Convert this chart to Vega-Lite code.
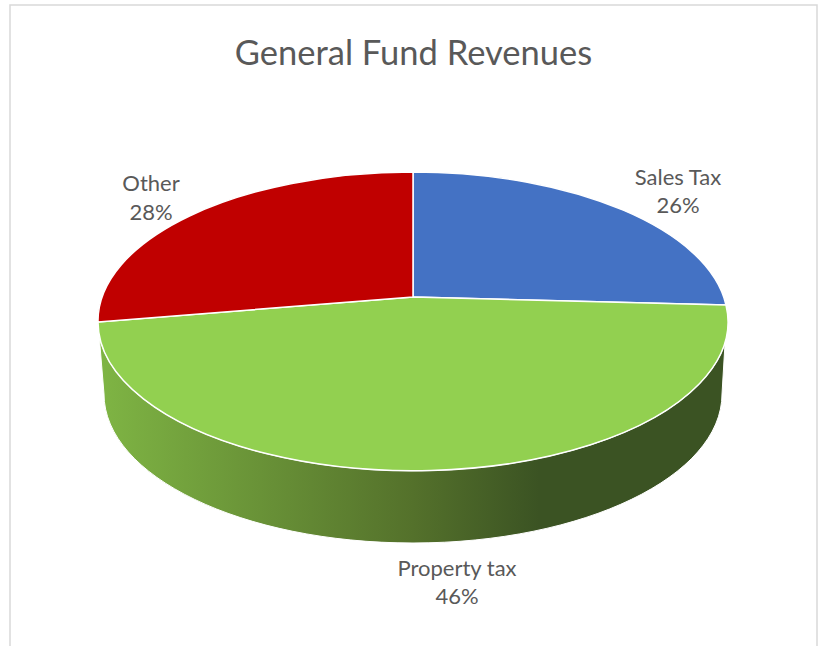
{
  "$schema": "https://vega.github.io/schema/vega-lite/v6.json",
  "width": 822,
  "height": 646,
  "autosize": {"type": "fit", "contains": "padding"},
  "padding": {"left": 10, "top": 5, "right": 5, "bottom": -10},
  "background": "white",
  "view": {"stroke": "#D9D9D9", "strokeWidth": 1.5, "fill": "white"},
  "title": {"text": "General Fund Revenues", "font": "Lato", "fontSize": 34.5, "fontWeight": "normal", "color": "#595959", "anchor": "middle", "offset": -67},
  "data": {"values": [
    {"source": "Sales Tax", "share": 26, "label": "Sales Tax\n26%"},
    {"source": "Property tax", "share": 46, "label": "Property tax\n46%"},
    {"source": "Other", "share": 28, "label": "Other\n28%"}
  ]},
  "layer": [
    {
      "transform": [{"filter": "datum.source === 'Property tax'"}],
      "mark": {"type": "point", "filled": true, "opacity": 1, "size": 40000, "stroke": "white", "strokeWidth": 1,
        "shape": "M-3.155 -0.085 L-3.095 0.635 A3.09 1.49 0 0 0 3.085 0.635 L3.135 -0.205 L3.125 -0.255 A3.15 1.49 0 1 1 -3.155 -0.085 Z",
        "fill": {"gradient": "linear", "x1": 0, "y1": 0, "x2": 1, "y2": 0, "stops": [
          {"offset": 0, "color": "#7FB544"},
          {"offset": 0.5, "color": "#54712B"},
          {"offset": 0.7, "color": "#3B5323"},
          {"offset": 1, "color": "#3B5323"}
        ]}},
      "encoding": {}
    },
    {
      "mark": {"type": "point", "filled": true, "opacity": 1, "size": 40000, "stroke": "white", "strokeWidth": 1.5},
      "encoding": {
        "shape": {"field": "source", "type": "nominal", "legend": null, "scale": {
          "domain": ["Sales Tax", "Property tax", "Other"],
          "range": [
            "M-0.005 -0.335 L-0.005 -1.585 A3.15 1.49 0 0 1 3.125 -0.255 Z",
            "M-0.005 -0.335 L3.125 -0.255 A3.15 1.49 0 1 1 -3.155 -0.085 Z",
            "M-0.005 -0.335 L-3.155 -0.085 A3.15 1.49 0 0 1 -0.005 -1.585 Z"
          ]}},
        "color": {"field": "source", "type": "nominal", "legend": null, "scale": {
          "domain": ["Sales Tax", "Property tax", "Other"],
          "range": ["#4472C4", "#92D050", "#C00000"]}}
      }
    },
    {
      "transform": [{"filter": "datum.source === 'Sales Tax'"}],
      "mark": {"type": "text", "font": "Lato", "fontSize": 22, "color": "#595959", "lineBreak": "\n", "lineHeight": 28, "dx": 264.5, "dy": -153},
      "encoding": {"text": {"field": "label"}}
    },
    {
      "transform": [{"filter": "datum.source === 'Other'"}],
      "mark": {"type": "text", "font": "Lato", "fontSize": 22, "color": "#595959", "lineBreak": "\n", "lineHeight": 29, "dx": -262.5, "dy": -147},
      "encoding": {"text": {"field": "label"}}
    },
    {
      "transform": [{"filter": "datum.source === 'Property tax'"}],
      "mark": {"type": "text", "font": "Lato", "fontSize": 22, "color": "#595959", "lineBreak": "\n", "lineHeight": 28, "dx": 43.5, "dy": 238},
      "encoding": {"text": {"field": "label"}}
    }
  ]
}
